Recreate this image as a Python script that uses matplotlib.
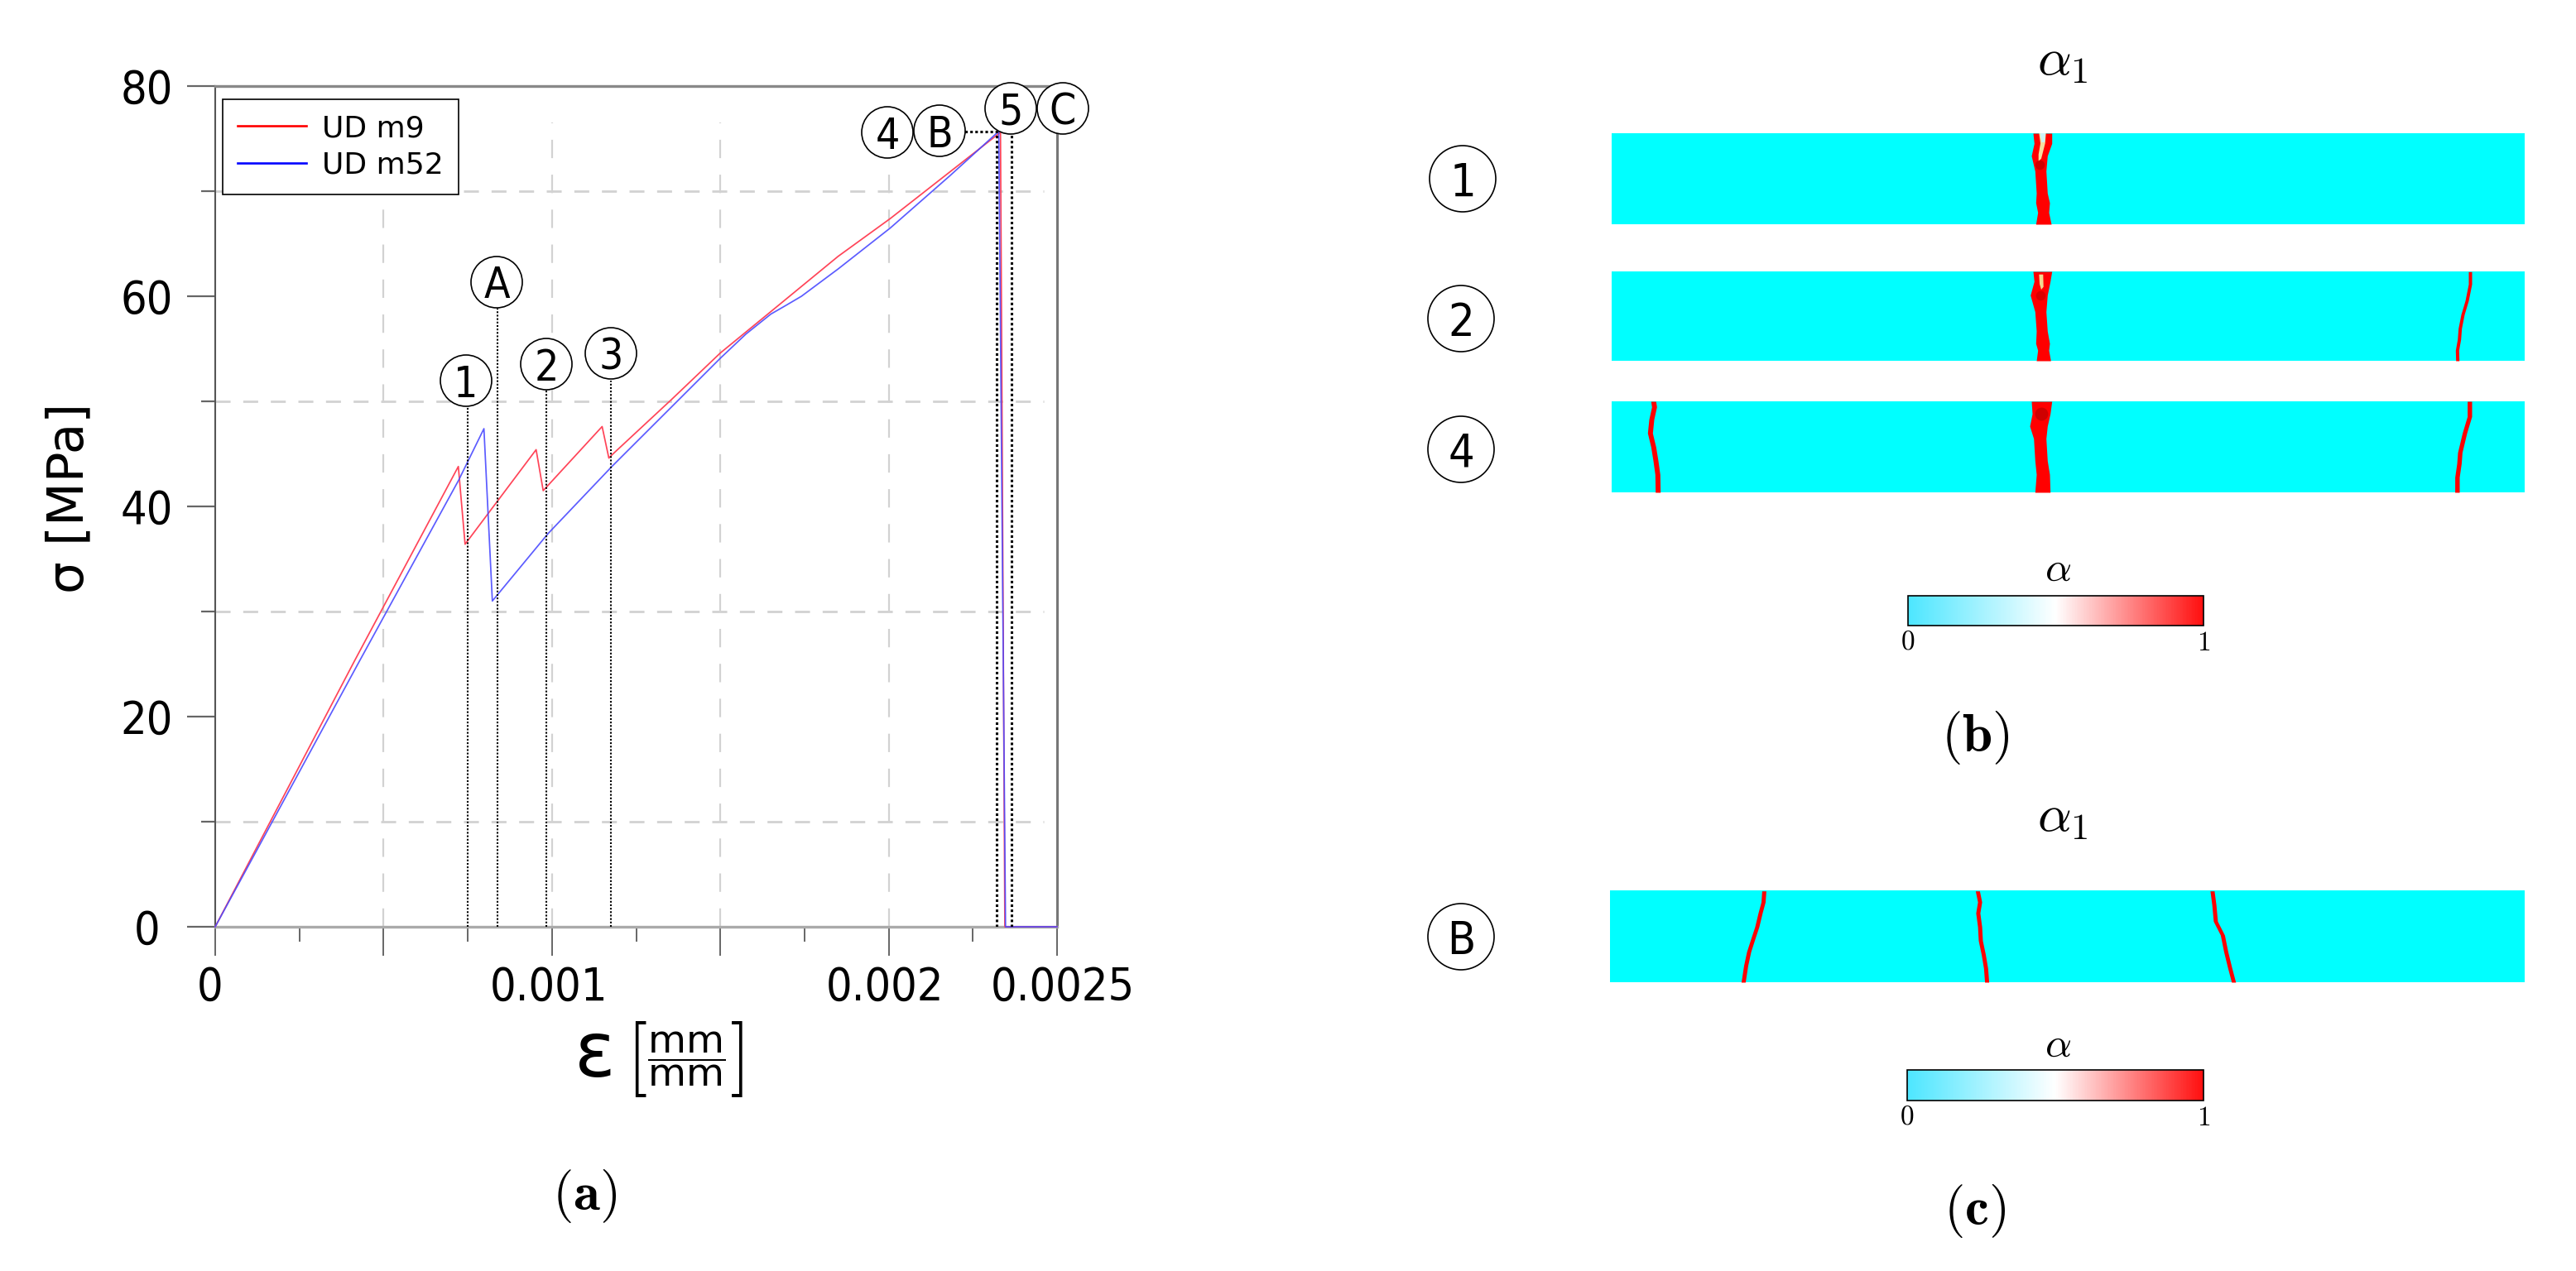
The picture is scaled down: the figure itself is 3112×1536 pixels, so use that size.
import matplotlib
matplotlib.use("Agg")
import matplotlib.pyplot as plt
import numpy as np
from matplotlib.patches import Ellipse
from matplotlib.transforms import Affine2D, ScaledTranslation
from matplotlib.colors import LinearSegmentedColormap, Normalize
from matplotlib.cm import ScalarMappable
from matplotlib.font_manager import FontProperties

W, H = 3112, 1536

# ---- curve data
red_eps = [0, 0.000412, 0.000722, 0.000742, 0.000953, 0.000974, 0.001149, 0.001169, 0.001178, 0.001356, 0.0015, 0.001641, 0.00185, 0.002005, 0.002332, 0.002345, 0.0025]
red_sig = [0, 25.2, 43.8, 36.4, 45.4, 41.5, 47.6, 44.6, 44.9, 50.2, 54.6, 58.3, 63.8, 67.4, 75.6, 0, 0]
blue_eps = [0, 0.000427, 0.000723, 0.000798, 0.000823, 0.000988, 0.001178, 0.0015, 0.001576, 0.00165, 0.001696, 0.001741, 0.00185, 0.002005, 0.002183, 0.002327, 0.002347, 0.0025]
blue_sig = [0, 25.2, 42.5, 47.4, 31.0, 37.4, 43.8, 54.1, 56.4, 58.3, 59.15, 60.0, 62.6, 66.5, 71.5, 75.7, 0, 0]

x_major = [0, 0.0005, 0.001, 0.0015, 0.002, 0.0025]
x_major_labels = ["0", "", "0.001", "", "0.002", "0.0025"]
x_label_shift = [-6, 0, -4, 0, -5, 7]
x_minor = [0.00025, 0.00075, 0.00125, 0.00175, 0.00225]
y_major = [0, 20, 40, 60, 80]
y_minor = [10, 30, 50, 70]
grid_x = [0.0005, 0.001, 0.0015, 0.002]
grid_y = [10, 30, 50, 70]

# dotted guide lines: strain, upper stress end
guide_eps = [0.00075, 0.000838, 0.000983, 0.001175]
guide_top = [49.5, 58.8, 51.2, 52.0]
guide2_eps = [0.00232, 0.002365]
guide2_top = [75.5, 77.3]
guide_h_eps = [0.00215, 0.002325]
guide_h_sig = 75.7

# circled labels: text, centre x, centre y, in image pixels
chart_marks = [("1", 563, 460), ("A", 600, 341), ("2", 660, 440), ("3", 738, 427),
               ("4", 1072, 160), ("B", 1135, 158), ("5", 1221, 131), ("C", 1284, 131)]
panel_marks = [("1", 1767, 216), ("2", 1765, 385), ("4", 1765, 543), ("B", 1765, 1132)]

# ---- crack maps, in image pixels
panel_boxes = [(1947, 161, 3050, 271), (1947, 328, 3050, 436), (1947, 485, 3050, 595), (1945, 1076, 3050, 1187)]

thick_cracks = [
    ([161, 173.3, 188.3, 206.7, 233.3, 245, 256.7, 271],
     [2456, 2457.3, 2454, 2458.3, 2460, 2459.3, 2461.7, 2459.3],
     [2478.7, 2478.7, 2473.3, 2471.7, 2473.3, 2476, 2475, 2478]),
    ([328, 340, 356.7, 376.7, 400, 415, 423.3, 436],
     [2456, 2457.3, 2452.7, 2458.3, 2460, 2459.3, 2461.7, 2460],
     [2478.7, 2476.7, 2473.3, 2471.7, 2473.3, 2476, 2475, 2477.3]),
    ([485, 500, 515, 530, 556.7, 573.3, 595],
     [2454, 2455, 2452, 2456.7, 2458.3, 2460, 2458.3],
     [2478.7, 2476.7, 2473.3, 2471.7, 2473.3, 2476, 2476.7]),
]
hole1_x = [2463.3, 2471.7, 2470.7, 2466, 2462.7, 2462.7, 2465]
hole1_y = [161, 161, 173.3, 191.7, 195, 186.7, 173.3]
hole1b_x = [2464.5, 2471, 2470, 2466.5]
hole1b_y = [161, 161, 172, 172]
hole2_x = [2463.3, 2468.3, 2468.7, 2466, 2464]
hole2_y = [331.7, 331.7, 346.7, 350, 343.3]

thin_cracks = [
    (2, [485, 491.7, 506.7, 523.3, 540, 556.7, 573.3, 595],
     [1997.3, 1998.3, 1995, 1993.3, 1997.3, 2000, 2002.3, 2002.7], 3.0),
    (1, [328.3, 343.3, 363.3, 380, 396.7, 410, 423.3, 436],
     [2984, 2984, 2980, 2975, 2971.7, 2970.7, 2968.3, 2968.7], 2.0),
    (2, [485, 503.3, 523.3, 546.7, 560, 576.7, 595],
     [2983.3, 2983.3, 2977.3, 2971.7, 2970.7, 2968.3, 2968.3], 2.7),
    (3, [1076.7, 1090, 1103.3, 1120, 1133.3, 1150, 1166.7, 1187],
     [2130.9, 2130, 2126.4, 2122.4, 2118, 2112.6, 2109, 2105.9], 2.5),
    (3, [1076.7, 1090, 1103.3, 1120, 1136.7, 1153.3, 1170, 1187],
     [2388.9, 2391.6, 2389.4, 2391.6, 2392.5, 2396, 2398.8, 2400.1], 2.5),
    (3, [1076.7, 1093.3, 1113.3, 1130, 1150, 1170, 1187],
     [2672.4, 2674.6, 2676.4, 2684.9, 2688.9, 2693.8, 2698.3], 2.5),
]

cbar_boxes = [(2305, 720, 2662, 756), (2304, 1293, 2662, 1330)]
cbar_colors = ["#4de6ff", "#ffffff", "#ff0f0f"]

fig = plt.figure(figsize=(W / 100, H / 100), dpi=100, facecolor="white")
px = Affine2D().scale(1 / W, -1 / H).translate(0, 1) + fig.transFigure


def ax_px(l, t, r, b):
    return fig.add_axes([l / W, 1 - b / H, (r - l) / W, (b - t) / H])


COND = dict(family="DejaVu Sans", stretch="condensed")

# ---- main chart
ax = ax_px(260, 104, 1277, 1120)
ax.set_xlim(0, 0.0025)
ax.set_ylim(0, 80)
ax.hlines(grid_y, 0, 0.00246, colors="#d2d2d2", lw=2.0, linestyles=(0, (6.5, 5.5)), zorder=1)
ax.vlines(grid_x, 0, 76.5, colors="#d2d2d2", lw=1.6, linestyles=(0, (10, 9)), zorder=1)
ax.plot(red_eps, red_sig, color="#ff4458", lw=1.25, zorder=3, clip_on=False)
ax.plot(blue_eps, blue_sig, color="#4a4aff", lw=1.25, zorder=4, alpha=0.9, clip_on=False)
ax.vlines(guide_eps, 0, guide_top, colors="black", lw=1.5, linestyles=(0, (1, 1)), zorder=5)
ax.vlines(guide2_eps, 0, guide2_top, colors="black", lw=2.2, linestyles=(0, (1, 1)), zorder=5)
ax.hlines(guide_h_sig, guide_h_eps[0], guide_h_eps[1], colors="black", lw=2.2, linestyles=(0, (1, 1)), zorder=5)

ax.set_xticks(x_major)
ax.set_xticklabels(x_major_labels)
ax.set_xticks(x_minor, minor=True)
ax.set_yticks(y_major)
ax.set_yticks(y_minor, minor=True)
ax.tick_params(axis="x", which="major", length=25, width=1.4, color="#666666", pad=9, labelsize=40)
ax.tick_params(axis="x", which="minor", length=13, width=1.4, color="#666666")
ax.tick_params(axis="y", which="major", length=24.5, width=1.6, color="#666666", pad=35, labelsize=40)
ax.tick_params(axis="y", which="minor", length=12, width=1.6, color="#666666")
for lab, dx in zip(ax.get_xticklabels(), x_label_shift):
    lab.set_fontproperties(FontProperties(size=40, **COND))
    lab.set_transform(lab.get_transform() + ScaledTranslation(dx / 100, 0, fig.dpi_scale_trans))
for lab in ax.get_yticklabels():
    lab.set_fontproperties(FontProperties(size=40, **COND))
    lab.set_ha("center")
ax.spines["left"].set(color="#555555", lw=1.5)
ax.spines["right"].set(color="#777777", lw=2.2)
ax.spines["top"].set(color="#888888", lw=2.4)
ax.spines["bottom"].set(color="#aaaaaa", lw=2.4)

handles = [plt.Line2D([], [], color="#ff0000", lw=1.9), plt.Line2D([], [], color="#0000ff", lw=1.9)]
leg = ax.legend(handles, ["UD m9", "UD m52"], loc="upper left", bbox_to_anchor=(269, 120),
                bbox_transform=px, borderaxespad=0, fancybox=False, framealpha=1, edgecolor="black",
                fontsize=26, handlelength=2.3, handletextpad=0.53, borderpad=0.5, labelspacing=0.3)
leg.get_frame().set_linewidth(1.2)
leg.set_zorder(10)

fig.text(84, 602, "σ [MPa]", transform=px, rotation=90, ha="center", va="center", fontsize=44, family="DejaVu Sans")
fig.text(719, 1275, "ε", transform=px, ha="center", va="center", fontsize=66, family="DejaVu Sans")
fig.text(829, 1280, r"$\dfrac{\mathrm{mm}}{\mathrm{mm}}$", transform=px, ha="center", va="center",
         fontsize=34, math_fontfamily="dejavusans")
fig.text(769, 1280, r"$[$", transform=px, ha="center", va="center", fontsize=66, math_fontfamily="cm")
fig.text(889, 1280, r"$]$", transform=px, ha="center", va="center", fontsize=66, math_fontfamily="cm")


def mark(label, x, y, r, size):
    fig.add_artist(Ellipse((x, y), 2 * r, 2 * r, transform=px, fc="white", ec="black", lw=1.2, zorder=6))
    fig.text(x, y, label, transform=px, ha="center", va="center_baseline", fontsize=size, zorder=7, **COND)


for lab, x, y in chart_marks:
    mark(lab, x, y, 31, 37)
for lab, x, y in panel_marks:
    mark(lab, x, y, 40, 40)

# ---- crack maps
pax = []
for l, t, r, b in panel_boxes:
    a = ax_px(l, t, r, b)
    a.set_xlim(l, r)
    a.set_ylim(b, t)
    a.set_facecolor("#00ffff")
    a.set_xticks([])
    a.set_yticks([])
    for s in a.spines.values():
        s.set_visible(False)
    pax.append(a)

for a, (ys, xl, xr) in zip(pax, thick_cracks):
    a.fill_betweenx(ys, xl, xr, color="#ff0000", lw=0)
pax[0].fill(hole1_x, hole1_y, color="#f5dfa0", lw=0)
pax[0].fill(hole1b_x, hole1b_y, color="#cdf3f7", lw=0)
pax[1].fill(hole2_x, hole2_y, color="#f3d98f", lw=0)
pax[0].scatter([2464], [199], s=70, color="#b00000", alpha=0.6, lw=0)
pax[1].scatter([2465], [357], s=70, color="#b80000", alpha=0.5, lw=0)
pax[2].scatter([2466], [500], s=130, color="#b00000", alpha=0.6, lw=0)
for i, ys, xs, hw in thin_cracks:
    xs = np.asarray(xs)
    pax[i].fill_betweenx(ys, xs - hw, xs + hw, color="#ff0000", lw=0)

# ---- colour bars
cmap = LinearSegmentedColormap.from_list("alpha", cbar_colors)
for (l, t, r, b), lab_y in zip(cbar_boxes, [688, 1263]):
    c = ax_px(l, t, r, b)
    cb = fig.colorbar(ScalarMappable(norm=Normalize(0, 1), cmap=cmap), cax=c, orientation="horizontal")
    cb.set_ticks([0, 1])
    cb.set_ticklabels(["0", "1"])
    cb.ax.tick_params(length=0, pad=5, labelsize=24, labelfontfamily="cmr10")
    cb.outline.set_linewidth(1.2)
    fig.text((l + r) / 2 + 3, lab_y, r"$\alpha$", transform=px, ha="center", va="center", fontsize=36, math_fontfamily="cm")

for y in [72, 986]:
    fig.text(2492, y, r"$\alpha_1$", transform=px, ha="center", va="center", fontsize=46, math_fontfamily="cm")

for s, x, y in [("a", 706, 1445), ("b", 2386, 892), ("c", 2386, 1464)]:
    fig.text(x, y, r"($\mathbf{%s}$)" % s, transform=px, ha="center", va="center", fontsize=47,
             family="cmr10", math_fontfamily="cm")

fig.savefig("out.png", dpi=100)
